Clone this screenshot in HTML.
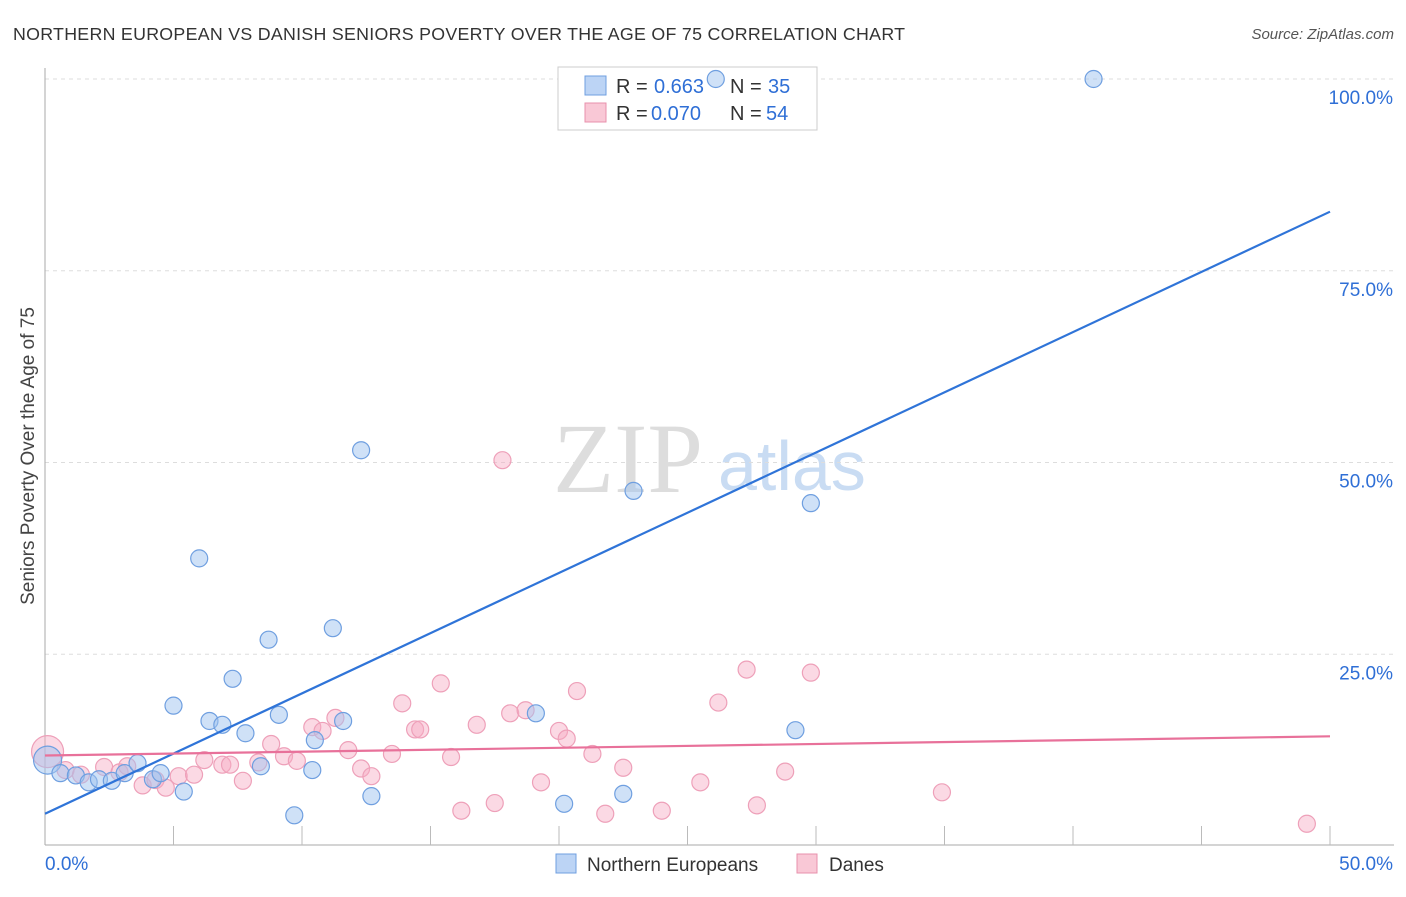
<!DOCTYPE html>
<html><head><meta charset="utf-8"><style>
body{margin:0;background:#fff;font-family:"Liberation Sans",sans-serif}
</style></head><body>
<svg id="c" width="1406" height="892" font-family="Liberation Sans, sans-serif" xmlns="http://www.w3.org/2000/svg">
<text x="13" y="40" font-size="17.8" fill="#333" textLength="892">NORTHERN EUROPEAN VS DANISH SENIORS POVERTY OVER THE AGE OF 75 CORRELATION CHART</text>
<text x="1394" y="39" font-size="15" fill="#555" text-anchor="end" font-style="italic">Source: ZipAtlas.com</text>
<text x="34" y="456" font-size="19" fill="#444" text-anchor="middle" transform="rotate(-90 34 456)">Seniors Poverty Over the Age of 75</text>
<text x="553" y="492" font-size="100" fill="#ddd" style="font-family:'Liberation Serif',serif">ZIP</text>
<text x="718" y="490" font-size="70" fill="#c9dcf3">atlas</text>
<g id="grid"></g>
<g>
<rect x="558" y="67" width="259" height="63" fill="#fff" stroke="#ccc"/>
<rect x="585" y="76" width="21" height="19" fill="#bcd4f5" stroke="#6f9fe0"/>
<rect x="585" y="103" width="21" height="19" fill="#f9c8d6" stroke="#e891ac"/>
<text x="616" y="93" font-size="20" fill="#333">R =</text><text x="654" y="93" font-size="20" fill="#2f6fd6">0.663</text>
<text x="730" y="93" font-size="20" fill="#333">N =</text><text x="768" y="93" font-size="20" fill="#2f6fd6">35</text>
<text x="616" y="120" font-size="20" fill="#333">R =</text><text x="651" y="120" font-size="20" fill="#2f6fd6">0.070</text>
<text x="730" y="120" font-size="20" fill="#333">N =</text><text x="766" y="120" font-size="20" fill="#2f6fd6">54</text>
</g>
<g id="pts"></g><g id="lines"></g>
<g>
<rect x="556" y="854" width="20" height="19" fill="#bcd4f5" stroke="#6f9fe0"/>
<text x="587" y="871" font-size="19" fill="#333">Northern Europeans</text>
<rect x="797" y="854" width="20" height="19" fill="#f9c8d6" stroke="#e891ac"/>
<text x="829" y="871" font-size="19" fill="#333">Danes</text>
</g>
</svg>
<script>
const blueX=[0.1,0.6,1.2,1.7,2.1,2.6,3.1,3.6,4.2,4.5,5.4,5.0,6.0,6.4,6.9,7.3,7.8,8.4,8.7,9.1,9.7,10.4,10.5,11.2,11.6,12.3,12.7,19.1,20.2,22.5,22.9,26.1,29.2,29.8,40.8];
const blueY=[11.2,9.5,9.2,8.3,8.7,8.5,9.5,10.8,8.7,9.5,7.1,18.3,37.5,16.3,15.8,21.8,14.7,10.4,26.9,17.1,4.0,9.9,13.8,28.4,16.3,51.6,6.5,17.3,5.5,6.8,46.3,100,15.1,44.7,100];
const pinkX=[0.1,0.8,1.4,2.3,2.9,3.2,3.8,4.3,4.7,5.2,5.8,6.2,6.9,7.2,7.7,8.3,8.8,9.3,9.8,10.4,10.8,11.3,11.8,12.3,12.7,13.5,13.9,14.4,14.6,15.4,15.8,16.2,16.8,17.5,17.8,18.1,18.7,19.3,20.0,20.3,20.7,21.3,21.8,22.5,24.0,25.5,26.2,27.3,27.7,28.8,29.8,34.9,49.1];
const pinkY=[12.3,9.9,9.3,10.3,9.6,10.4,7.9,8.6,7.6,9.1,9.3,11.2,10.6,10.6,8.5,10.9,13.3,11.7,11.1,15.5,15.0,16.7,12.5,10.1,9.1,12.0,18.6,15.2,15.2,21.2,11.6,4.6,15.8,5.6,50.3,17.3,17.7,8.3,15.0,14.0,20.2,12.0,4.2,10.2,4.6,8.3,18.7,23.0,5.3,9.7,22.6,7.0,2.9];
const xs=v=>45+v/50*1285, ys=v=>846-v/100*767;
const NS='http://www.w3.org/2000/svg';
function mk(t,a,p){const e=document.createElementNS(NS,t);for(const k in a)e.setAttribute(k,a[k]);p.appendChild(e);return e;}
const grid=document.getElementById('grid');
const yTicks=[25,50,75,100];
yTicks.forEach(v=>{const l=mk('line',{x1:45,x2:1394,y1:ys(v),y2:ys(v),stroke:'#ddd','stroke-dasharray':'4 4'},grid);


const t=mk('text',{x:1393,y:ys(v)+25,'font-size':19,fill:'#2f6fd6','text-anchor':'end'},grid);t.textContent=v.toFixed(1)+'%';

});
const ax=mk('line',{x1:45,x2:1394,y1:845,y2:845,stroke:'#aaa'},grid);


const ay=mk('line',{x1:45,x2:45,y1:68,y2:845,stroke:'#aaa'},grid);


for(let i=1;i<=10;i++){const tk=mk('line',{x1:45+i*128.5,x2:45+i*128.5,y1:826,y2:845,stroke:'#bbb'},grid);

}
const xl=[['0.0%',45,'start'],['50.0%',1393,'end']];
xl.forEach(([s,x,a])=>{const t=mk('text',{x:x,y:870,'font-size':19,fill:'#2f6fd6','text-anchor':a},grid);t.textContent=s;

});
const pts=document.getElementById('pts');
pinkX.forEach((x,i)=>{const c=mk('circle',{cx:xs(x),cy:ys(pinkY[i]),r:i==0?16:8.5,fill:'rgba(246,170,195,0.45)',stroke:'#eea0b9','stroke-width':1.2},pts);

});
blueX.forEach((x,i)=>{const c=mk('circle',{cx:xs(x),cy:ys(blueY[i]),r:i==0?14:8.5,fill:'rgba(160,196,240,0.5)',stroke:'#6f9fe0','stroke-width':1.2},pts);

});
const lines=document.getElementById('lines');
const [ba,bb]=[4.2,1.57];
const bl=mk('line',{x1:xs(0),y1:ys(ba),x2:xs(50),y2:ys(ba+bb*50),stroke:'#2f74d8','stroke-width':2.2},lines);


const [pa,pb]=[11.8,0.05];
const pl=mk('line',{x1:xs(0),y1:ys(pa),x2:xs(50),y2:ys(pa+pb*50),stroke:'#e8719a','stroke-width':2.2},lines);


</script>
</body></html>
